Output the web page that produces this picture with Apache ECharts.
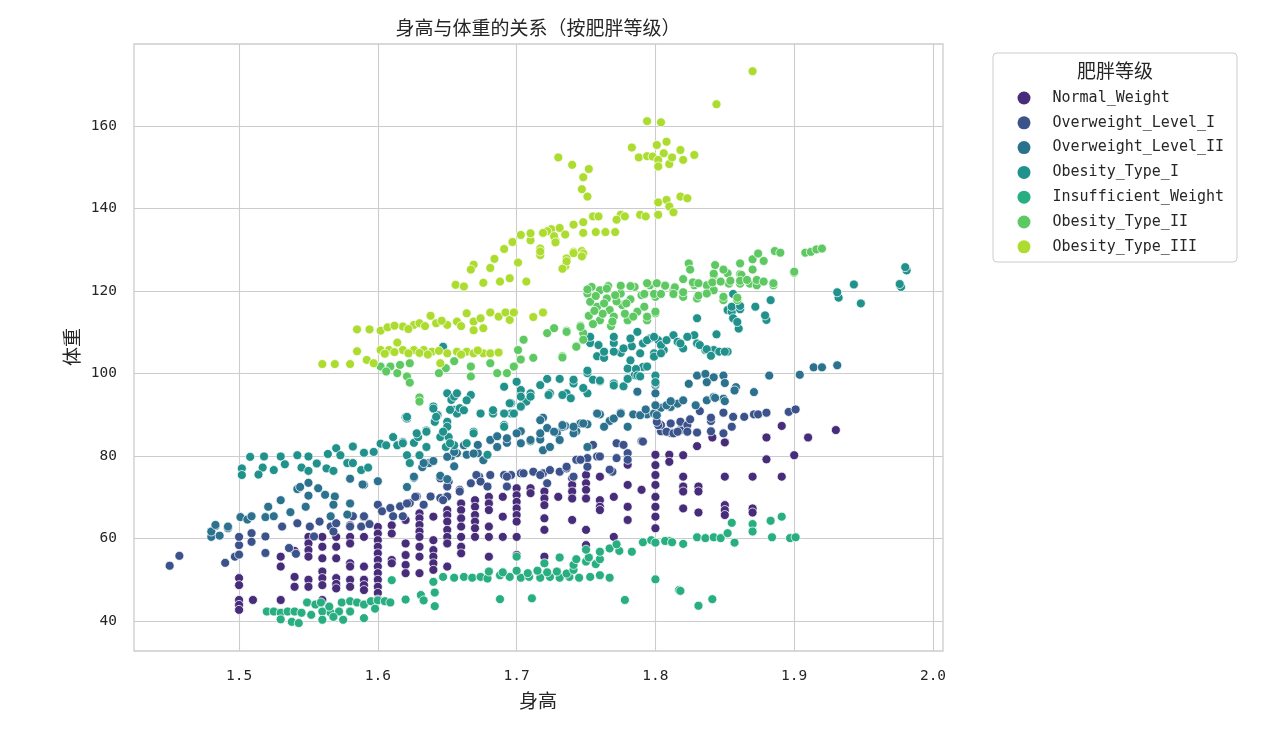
<!DOCTYPE html>
<html>
<head>
<meta charset="utf-8">
<title>身高与体重的关系</title>
<script src="https://cdn.jsdelivr.net/npm/echarts@6/dist/echarts.min.js"></script>
<style>
  html, body { margin: 0; padding: 0; background: #fff; }
  #main { width: 1273px; height: 730px; }
</style>
</head>
<body>
<div id="main"></div>
<script>
// 类别与颜色（seaborn viridis, 7 类）
var categories = ['Normal_Weight', 'Overweight_Level_I', 'Overweight_Level_II', 'Obesity_Type_I',
  'Insufficient_Weight', 'Obesity_Type_II', 'Obesity_Type_III'];
var colors = ['#472c7a', '#3b528b', '#2c728e', '#21918c', '#28ae80', '#5ec962', '#addc30'];

var xTicks = [1.5, 1.6, 1.7, 1.8, 1.9, 2.0];
var yTicks = [40, 60, 80, 100, 120, 140, 160];

// [身高, 体重]
var normalWeight = [
  [1.50,50.4],[1.50,48.7],[1.50,45.1],[1.50,43.9],[1.50,42.7],[1.51,45.1],
  [1.53,55.6],[1.53,53.2],[1.53,45.1],[1.54,57.0],[1.54,50.7],[1.54,48.3],
  [1.55,60.4],[1.55,58.8],[1.55,57.2],[1.55,55.6],[1.55,50.0],[1.55,48.3],
  [1.56,60.4],[1.56,58.0],[1.56,55.2],[1.56,52.0],[1.56,50.4],[1.56,48.7],[1.56,45.1],
  [1.57,60.4],[1.57,58.0],[1.57,55.2],[1.57,50.4],[1.57,49.0],[1.57,47.9],
  [1.58,63.2],[1.58,60.4],[1.58,58.8],[1.58,54.0],[1.58,53.2],[1.58,50.0],[1.58,48.3],
  [1.59,65.2],[1.59,60.4],[1.59,53.2],[1.59,50.0],[1.59,48.7],[1.59,47.5],
  [1.60,62.8],[1.60,61.2],[1.60,59.6],[1.60,58.0],[1.60,56.4],[1.60,54.8],[1.60,53.2],[1.60,51.6],[1.60,50.0],[1.60,48.3],[1.60,46.8],[1.60,45.2],
  [1.61,63.2],[1.61,61.2],[1.61,54.8],[1.61,54.0],
  [1.62,64.5],[1.62,58.8],[1.62,56.0],[1.62,53.6],[1.62,51.6],
  [1.63,66.1],[1.63,64.9],[1.63,63.3],[1.63,61.7],[1.63,60.4],[1.63,58.0],[1.63,55.6],[1.63,51.6],
  [1.64,65.3],[1.64,59.6],[1.64,57.2],[1.64,55.6],[1.64,54.0],[1.64,52.4],
  [1.65,66.9],[1.65,65.7],[1.65,64.1],[1.65,62.1],[1.65,60.4],[1.65,58.8],[1.65,53.2],
  [1.66,68.5],[1.66,66.9],[1.66,64.9],[1.66,62.9],[1.66,60.4],[1.66,58.0],[1.66,56.4],
  [1.67,69.3],[1.67,67.7],[1.67,65.7],[1.67,64.1],[1.67,62.5],[1.67,60.4],
  [1.68,70.1],[1.68,68.5],[1.68,66.9],[1.68,62.9],[1.68,60.4],[1.68,55.6],
  [1.69,70.1],[1.69,65.3],[1.69,60.4],
  [1.70,72.2],[1.70,70.5],[1.70,68.9],[1.70,67.3],[1.70,65.7],[1.70,64.1],[1.70,60.4],[1.70,56.0],
  [1.71,72.2],[1.71,71.0],
  [1.72,71.4],[1.72,69.7],[1.72,68.1],[1.72,64.9],[1.72,62.1],[1.72,55.6],
  [1.73,70.1],
  [1.74,74.6],[1.74,73.0],[1.74,71.4],[1.74,69.7],[1.74,64.5],
  [1.75,75.4],[1.75,73.4],[1.75,71.8],[1.75,69.7],[1.75,62.1],[1.75,58.4],
  [1.76,75.0],[1.76,69.3],[1.76,67.7],[1.76,66.9],
  [1.77,70.1],[1.77,60.4],
  [1.78,77.9],[1.78,73.0],[1.78,67.7],[1.78,64.5],
  [1.79,71.8],
  [1.80,80.3],[1.80,77.8],[1.80,75.4],[1.80,73.0],[1.80,70.1],[1.80,67.7],[1.80,65.3],[1.80,62.5],
  [1.81,80.3],[1.81,78.6],
  [1.82,80.2],[1.82,75.0],[1.82,72.6],[1.82,71.4],[1.82,67.3],
  [1.831,72.6],[1.831,71.4],[1.831,66.3],[1.830,82.4],
  [1.841,84.5],[1.85,83.3],[1.85,75.0],[1.85,68.1],[1.85,66.9],[1.85,65.7],
  [1.87,75.0],[1.87,67.3],[1.87,66.3],
  [1.88,84.5],[1.88,79.2],[1.891,87.3],[1.891,75.0],[1.90,80.2],[1.91,84.5],[1.93,86.3]
];

var overweightI = [
  [1.45,53.4],[1.457,55.8],[1.49,54.1],[1.497,55.6],[1.50,58.4],[1.50,60.4],[1.50,56.1],
  [1.509,61.3],[1.509,59.2],[1.519,60.5],[1.519,56.5],[1.536,57.7],[1.541,56.3],[1.531,62.9],
  [1.542,63.7],[1.551,62.9],[1.554,60.5],[1.558,64.1],[1.566,62.9],[1.568,61.7],[1.57,63.7],
  [1.58,62.9],[1.582,65.4],[1.59,65.4],[1.588,62.9],[1.594,63.5],[1.60,68.2],[1.603,66.6],
  [1.609,67.4],[1.611,65.4],[1.616,67.8],[1.618,65.4],[1.623,68.6],[1.628,70.2],[1.633,68.2],
  [1.638,70.2],[1.645,69.8],[1.65,70.2],
  [1.621,68.5],[1.627,70.1],[1.647,69.3],[1.645,74.6],[1.651,73.8],[1.659,71.8],[1.667,73.4],
  [1.673,75.0],[1.681,75.4],[1.691,75.4],[1.696,75.4],[1.703,75.8],[1.712,76.2],[1.719,75.8],
  [1.722,73.4],[1.731,76.2],[1.736,77.0],[1.743,79.1],[1.751,79.5],[1.758,79.9],[1.769,76.2],
  [1.772,79.5],[1.78,80.7],[1.79,83.6],[1.804,86.0],[1.811,85.6],
  [1.65,72.6],[1.659,71.4],[1.671,75.4],[1.674,73.8],[1.679,72.6],[1.693,75.0],[1.693,72.6],
  [1.705,75.8],[1.717,75.4],[1.724,76.6],[1.736,77.4],[1.741,75.0],[1.746,79.1],[1.751,77.4],
  [1.755,82.7],[1.76,79.9],[1.767,76.7],[1.772,83.1],[1.777,82.7],[1.78,79.1],[1.791,83.5],
  [1.804,87.5],[1.808,85.9],[1.813,85.5],[1.818,86.3],
  [1.802,87.5],[1.811,87.9],[1.818,88.3],[1.823,87.5],[1.816,85.9],[1.823,85.9],[1.83,85.7],
  [1.84,88.5],[1.84,86.0],[1.849,85.5],[1.856,89.5],[1.855,87.1],[1.864,89.5],[1.871,90.1],
  [1.874,90.1],[1.88,90.5],[1.896,90.7],[1.901,91.3],[1.832,90.9],[1.84,89.3],[1.849,90.5],
  [1.801,88.3],[1.825,88.9]
];

var overweightII = [
  [1.48,60.4],[1.483,63.0],[1.486,60.7],[1.492,62.5],[1.48,61.7],[1.483,63.3],[1.492,62.9],
  [1.501,65.2],[1.506,64.6],[1.509,65.4],[1.521,67.7],[1.519,65.2],[1.525,65.4],[1.53,69.3],
  [1.537,66.4],[1.542,72.0],[1.544,72.5],[1.55,73.5],[1.55,70.4],[1.557,72.2],[1.548,67.7],
  [1.562,70.6],[1.569,70.2],[1.568,68.2],[1.566,65.4],[1.58,74.5],[1.58,68.5],[1.578,65.8],
  [1.59,73.0],[1.60,73.9],[1.589,73.1],[1.621,72.5],[1.626,74.7],[1.632,77.3],[1.637,78.3],
  [1.64,78.8],[1.645,75.2],[1.65,74.4],[1.653,80.0],[1.655,77.5],
  [1.626,75.0],[1.633,78.3],[1.657,80.7],[1.664,80.3],[1.672,80.7],[1.681,83.9],[1.686,84.8],
  [1.693,83.2],[1.703,86.0],[1.71,83.6],[1.717,84.0],[1.722,86.8],[1.729,85.6],[1.735,87.3],
  [1.743,86.0],[1.751,87.7],[1.76,90.1],[1.767,88.5],[1.775,90.5],[1.784,90.1],[1.794,90.1],
  [1.804,91.7],[1.719,89.3],[1.672,82.7],
  [1.65,79.8],[1.655,81.0],[1.662,82.6],[1.669,80.6],[1.676,79.0],[1.686,82.2],[1.693,84.3],
  [1.70,85.5],[1.703,83.1],[1.71,83.9],[1.717,88.7],[1.717,85.5],[1.719,81.4],[1.724,82.2],
  [1.731,83.9],[1.733,87.1],[1.741,85.5],[1.746,87.9],[1.751,82.2],[1.758,90.3],[1.763,87.1],
  [1.77,89.1],[1.775,90.3],[1.78,87.1],[1.789,89.9],[1.799,90.3],[1.811,91.9],[1.816,92.7],
  [1.80,97.2],[1.80,95.2],[1.787,95.6],[1.78,98.8],
  [1.83,99.5],[1.836,99.9],[1.842,99.1],[1.849,99.5],[1.824,97.5],[1.837,97.9],[1.858,96.7],
  [1.871,95.5],[1.82,93.5],[1.829,92.3],[1.837,93.5],[1.842,94.3],[1.849,93.9],[1.80,92.3],
  [1.808,92.3],[1.801,89.9],[1.748,87.9],[1.741,87.1],[1.733,87.5],[1.727,85.9],[1.80,97.7],
  [1.85,97.7],[1.857,95.9],[1.882,99.5],[1.904,99.7],[1.914,101.5],[1.92,101.5],[1.931,102.0],
  [1.811,93.3],[1.843,94.1],[1.85,93.3],[1.793,91.3]
];

var obesityI = [
  [1.508,79.8],[1.502,77.0],[1.502,75.4],[1.518,79.9],[1.517,77.2],[1.514,75.5],[1.525,76.6],
  [1.53,79.9],[1.533,78.0],[1.542,80.2],[1.545,77.2],[1.55,79.9],[1.55,76.4],[1.556,78.2],
  [1.563,77.0],[1.564,80.5],[1.57,81.9],[1.568,76.4],[1.573,80.2],[1.578,78.3],[1.582,82.3],
  [1.582,78.3],[1.59,80.8],[1.588,76.6],[1.593,77.2],[1.597,81.0],[1.602,83.0],[1.606,82.6],
  [1.611,84.6],[1.614,82.6],[1.618,83.4],[1.621,80.2],[1.626,83.2],[1.629,84.6],[1.63,80.2],
  [1.635,82.2],[1.635,86.2],[1.62,89.4],[1.641,88.3],[1.643,90.0],[1.65,95.2],[1.653,93.6],
  [1.65,88.3],[1.645,84.6],[1.651,84.6],[1.649,82.2],[1.655,91.2],[1.655,82.6],
  [1.621,89.1],[1.628,85.5],[1.64,92.0],[1.635,85.9],[1.643,89.9],[1.65,87.1],[1.652,83.1],
  [1.657,90.3],[1.664,83.1],[1.669,85.9],[1.674,90.3],[1.679,80.3],[1.618,83.1],[1.623,78.3],
  [1.691,87.5],[1.696,90.3],[1.703,91.9],
  [1.655,94.4],[1.667,94.8],[1.659,91.6],[1.683,90.3],[1.691,96.8],[1.696,92.8],[1.703,96.0],
  [1.71,95.2],[1.717,97.2],[1.724,95.2],[1.736,95.2],[1.741,97.6],[1.751,100.4],[1.751,95.2],
  [1.77,97.6],[1.78,101.2],[1.785,99.6],[1.791,101.6],[1.691,87.1],[1.669,85.5],[1.647,85.9],
  [1.652,91.2],[1.70,98.0],[1.707,93.2],
  [1.647,106.5],[1.657,95.2],[1.664,93.5],[1.621,89.5],[1.64,91.5],[1.642,89.5],[1.662,91.1],
  [1.683,91.1],[1.691,90.3],[1.698,90.3],[1.695,92.8],[1.703,92.0],[1.703,94.4],[1.71,94.4],
  [1.723,94.8],[1.733,94.8],[1.739,94.0],[1.751,100.1],[1.741,98.5],[1.755,98.5],[1.76,98.1],
  [1.777,96.9],[1.753,107.4],[1.758,104.2],[1.763,103.8],[1.77,107.4],[1.775,105.0],[1.783,106.6],
  [1.748,96.5],
  [1.852,115.4],[1.855,115.0],[1.861,115.6],[1.856,113.4],[1.86,110.9],[1.83,113.4],[1.844,109.5],
  [1.872,116.2],[1.88,113.0],[1.883,117.8],[1.932,118.4],[1.943,121.6],[1.948,117.0],[1.977,121.0],
  [1.981,125.0],
  [1.753,108.9],[1.759,106.9],[1.763,105.3],[1.77,108.9],[1.77,105.3],[1.777,106.1],[1.782,108.5],
  [1.782,103.2],[1.787,110.1],[1.789,104.9],[1.791,107.3],[1.796,108.5],[1.799,104.9],[1.802,108.1],
  [1.806,105.7],[1.813,109.3],[1.816,107.7],[1.82,106.1],[1.828,109.3],[1.83,107.3],[1.836,105.7],
  [1.842,105.7],[1.852,105.3],[1.786,101.1],[1.787,99.5],[1.78,98.7],[1.80,99.5],[1.80,97.9],
  [1.751,100.7],[1.76,98.3],[1.77,97.1],[1.731,98.7],[1.722,98.7],
  [1.856,119.3],[1.855,116.2],[1.861,116.4],[1.879,114.1],[1.859,112.5],[1.931,119.7],[1.98,125.8],
  [1.976,121.7],[1.794,108.1],[1.799,108.9],[1.804,106.9],[1.808,108.1],[1.818,107.3],[1.823,108.9],
  [1.832,106.9],[1.837,105.9],[1.84,104.3],[1.846,105.3],[1.85,105.3],[1.799,104.1],[1.804,104.9],
  [1.794,101.7],[1.789,99.3]
];

var insufficient = [
  [1.52,42.3],[1.525,42.3],[1.53,42.0],[1.535,42.3],[1.54,42.3],[1.545,42.0],[1.552,41.5],
  [1.56,42.3],[1.566,42.0],[1.572,42.3],[1.58,42.3],
  [1.53,40.4],[1.538,39.8],[1.543,39.5],[1.56,40.3],[1.575,40.3],[1.59,40.7],[1.568,41.0],
  [1.549,44.5],[1.555,44.0],[1.559,44.5],[1.574,44.5],[1.58,44.8],[1.585,44.5],[1.59,44.0],
  [1.595,44.8],[1.60,45.0],[1.605,44.8],[1.609,44.5],
  [1.61,49.9],[1.62,45.2],[1.598,43.0],[1.565,43.5],
  [1.631,46.3],[1.633,45.0],[1.641,46.9],[1.641,43.6],[1.688,45.3],[1.711,45.5],[1.70,55.6],
  [1.778,45.1],[1.80,50.1],[1.817,47.5],
  [1.64,49.5],[1.647,50.7],[1.655,50.5],[1.662,50.7],[1.668,50.5],[1.674,50.7],[1.679,50.3],
  [1.688,51.1],[1.695,50.7],[1.703,50.5],[1.709,50.7],[1.717,50.5],[1.724,50.7],[1.731,50.5],
  [1.738,50.7],[1.745,50.5],[1.753,50.7],[1.76,51.1],[1.767,50.5],
  [1.68,52.0],[1.69,51.8],[1.70,52.2],[1.708,51.6],[1.715,52.2],[1.722,51.8],[1.729,52.0],
  [1.736,51.5],[1.741,52.4],
  [1.72,54.0],[1.741,53.6],[1.75,54.4],[1.757,53.8],
  [1.731,55.4],[1.743,55.0],[1.752,55.4],[1.76,55.0],
  [1.75,57.3],[1.76,56.8],[1.767,57.6],[1.774,57.0],[1.783,56.8],
  [1.772,58.6],[1.791,59.1],[1.797,59.6],[1.80,59.0],[1.81,59.4],
  [1.807,59.4],[1.812,59.1],[1.82,58.7],[1.83,60.3],[1.836,60.1],[1.842,60.3],[1.847,60.1],
  [1.852,61.3],[1.857,59.0],[1.855,63.8],[1.87,63.5],[1.87,61.7],[1.883,64.3],[1.891,65.3],
  [1.884,60.3],[1.897,60.1],[1.901,60.3],[1.818,47.3],[1.831,43.7],[1.841,45.3]
];

var obesityII = [
  [1.602,101.7],[1.609,101.7],[1.614,100.1],[1.621,99.3],[1.606,100.5],[1.616,102.1],[1.623,102.5],
  [1.649,101.3],[1.644,100.1],[1.655,103.0],[1.667,101.7],[1.667,99.3],[1.681,102.5],[1.686,100.1],
  [1.693,100.1],[1.698,101.7],[1.703,103.4],[1.705,108.2],[1.701,105.7],[1.712,103.8],[1.63,94.2],
  [1.623,97.8],[1.63,93.2],[1.722,109.8],[1.727,111.0],[1.733,104.2],[1.736,110.4],[1.743,106.7],
  [1.746,111.6],[1.748,109.8],[1.748,108.2],[1.736,110.1],[1.746,111.3],[1.743,106.5],[1.733,103.9],
  [1.751,119.4],[1.753,117.4],[1.76,120.2],[1.765,118.2],[1.767,115.4],[1.775,119.4],[1.776,116.6],
  [1.77,113.8],[1.76,112.9],[1.758,116.2],[1.78,112.9],[1.785,121.0],[1.787,115.0],[1.794,112.9],
  [1.796,121.4],[1.80,114.6],[1.80,118.6],[1.807,121.4],[1.813,120.2],[1.82,118.6],[1.828,121.4],
  [1.83,118.2],[1.837,121.4],[1.842,120.2],[1.849,117.8],[1.853,121.8],[1.859,117.8],[1.861,121.8],
  [1.868,121.8],[1.873,121.4],[1.885,121.4],[1.842,123.8],[1.852,124.3],[1.861,124.1],[1.90,124.4],
  [1.752,114.0],[1.755,112.0],[1.762,114.5],[1.768,111.5],[1.772,117.5],[1.778,114.5],[1.782,118.0],
  [1.79,119.0],[1.754,121.0],[1.766,121.2],[1.775,121.3],
  [1.756,115.2],[1.763,117.0],[1.771,119.0],[1.779,117.0],[1.757,118.8],[1.769,112.6],[1.784,113.8],
  [1.824,126.7],[1.825,125.2],[1.843,126.3],[1.849,125.2],[1.842,124.2],[1.861,126.7],[1.862,123.9],
  [1.87,127.7],[1.874,129.1],[1.878,127.3],[1.87,125.2],[1.886,129.7],[1.89,129.3],[1.90,124.7],
  [1.908,129.3],[1.912,129.5],[1.916,130.1],[1.92,130.3],[1.794,121.9],[1.801,121.9],[1.807,121.3],
  [1.814,120.9],[1.82,122.9],[1.827,122.1],[1.831,121.9],[1.841,122.1],[1.847,122.3],[1.854,122.5],
  [1.861,122.5],[1.866,122.7],[1.873,122.7],[1.878,122.3],[1.885,121.9],[1.792,119.3],[1.799,119.3],
  [1.804,119.3],[1.813,119.3],[1.82,119.7],[1.831,118.9],[1.837,119.4],[1.849,118.6],[1.859,118.4],
  [1.792,116.2],[1.80,115.0],[1.794,113.8],[1.751,120.4],[1.765,120.6],[1.782,121.2]
];

var obesityIII = [
  [1.56,102.3],[1.569,102.3],[1.58,102.3],[1.585,110.7],[1.594,110.7],[1.602,110.4],[1.585,105.4],
  [1.592,103.3],[1.597,102.5],[1.602,105.7],[1.608,105.7],[1.614,107.5],[1.618,105.7],[1.626,105.7],
  [1.633,105.7],[1.639,105.3],[1.645,102.5],[1.65,104.9],[1.657,105.3],[1.664,105.3],[1.669,104.9],
  [1.676,104.9],[1.681,104.9],[1.687,105.1],[1.618,111.4],[1.626,111.8],[1.63,112.2],[1.638,114.0],
  [1.642,112.2],[1.65,111.8],[1.657,112.6],[1.664,114.6],[1.669,112.6],[1.674,113.4],[1.676,111.0],
  [1.681,114.8],[1.687,113.8],[1.692,114.8],[1.695,113.0],[1.698,114.8],[1.712,113.7],[1.719,114.8],
  [1.605,104.8],[1.612,105.2],[1.622,104.9],[1.63,105.0],[1.636,104.6],[1.644,105.5],[1.66,104.6],
  [1.672,105.6],[1.607,111.2],[1.612,111.6],[1.622,110.8],[1.634,111.5],[1.646,112.8],[1.66,111.5],
  [1.669,110.5],
  [1.656,121.5],[1.662,121.1],[1.669,126.4],[1.667,125.2],[1.676,122.0],[1.681,125.6],[1.684,127.8],
  [1.691,130.2],[1.688,122.3],[1.695,123.1],[1.701,126.9],[1.707,122.3],[1.71,132.3],[1.717,130.3],
  [1.717,128.7],[1.736,127.9],[1.735,126.0],[1.741,129.5],[1.747,129.7],[1.748,129.1],[1.728,132.3],
  [1.697,131.9],[1.703,133.6],[1.71,134.0],[1.725,135.0],
  [1.87,173.3],[1.844,165.3],[1.794,161.2],[1.804,160.9],[1.801,155.4],[1.808,156.2],[1.783,154.8],
  [1.788,152.4],[1.794,152.7],[1.798,152.6],[1.802,151.8],[1.802,150.2],[1.806,153.4],[1.81,150.8],
  [1.812,152.4],[1.818,154.2],[1.82,151.8],[1.828,153.0],[1.73,152.4],[1.74,150.6],[1.752,149.6],
  [1.748,147.6],[1.747,144.7],[1.751,142.9],[1.802,141.5],[1.808,142.1],[1.81,140.5],[1.818,142.9],
  [1.823,142.5],[1.802,138.5],[1.813,139.1],[1.755,138.1],[1.759,138.1],[1.775,138.5],[1.772,137.3],
  [1.778,138.1],[1.789,138.5],[1.793,138.1],[1.748,136.7],[1.741,136.1],[1.731,135.3],[1.722,134.5],
  [1.735,133.7],[1.748,134.1],[1.757,134.3],[1.764,134.3],[1.771,134.3],[1.727,133.3],[1.719,134.1],
  [1.728,131.8],[1.717,129.6],[1.741,129.2],[1.747,128.4],[1.736,127.2],[1.733,125.4]
];

var seriesData = [normalWeight, overweightI, overweightII, obesityI, insufficient, obesityII, obesityIII];

var chart = echarts.init(document.getElementById('main'), null, { renderer: 'canvas' });

var cjk = '"Noto Sans CJK SC", "Noto Sans", sans-serif';
var mono = '"DejaVu Sans Mono", "Liberation Mono", monospace';

var series = [];
for (var i = 0; i < categories.length; i++) {
  series.push({
    name: categories[i],
    type: 'scatter',
    data: seriesData[i],
    symbol: 'circle',
    symbolSize: 9,
    itemStyle: { color: colors[i], borderColor: '#ffffff', borderWidth: 0.75, opacity: 1 }
  });
}

chart.setOption({
  backgroundColor: '#ffffff',
  animation: false,
  grid: {
    left: 134, top: 44, width: 809, height: 607,
    show: true, borderColor: '#cccccc', borderWidth: 1.3, backgroundColor: '#ffffff'
  },
  xAxis: {
    type: 'value',
    min: 1.4243, max: 2.0072,
    axisLine: { show: false },
    axisTick: { show: false, customValues: xTicks },
    splitLine: { show: true, lineStyle: { color: '#cccccc', width: 1.1 } },
    axisLabel: {
      customValues: xTicks,
      margin: 18,
      color: '#262626',
      fontFamily: mono,
      fontSize: 14.5,
      formatter: function (v) { return v.toFixed(1); }
    }
  },
  yAxis: {
    type: 'value',
    min: 32.73, max: 179.9,
    axisLine: { show: false },
    axisTick: { show: false, customValues: yTicks },
    splitLine: { show: true, lineStyle: { color: '#cccccc', width: 1.1 } },
    axisLabel: {
      customValues: yTicks,
      margin: 17,
      color: '#262626',
      fontFamily: mono,
      fontSize: 14.5
    }
  },
  legend: {
    data: categories,
    orient: 'vertical',
    left: 1012.5,
    top: 85,
    z: 10,
    icon: 'circle',
    itemWidth: 13,
    itemHeight: 13,
    itemGap: 8.8,
    itemStyle: { borderWidth: 0 },
    textStyle: {
      fontFamily: mono, fontSize: 15, color: '#262626',
      lineHeight: 16, padding: [0, 0, 0, 17]
    }
  },
  graphic: [
    {
      type: 'rect', z: 1,
      shape: { x: 993, y: 53, width: 244, height: 209, r: 4 },
      style: { fill: '#ffffff', stroke: '#cccccc', lineWidth: 1 }
    },
    {
      type: 'text', z: 2, x: 1115, y: 71,
      style: { text: '肥胖等级', fontFamily: cjk, fontSize: 19, fill: '#262626', textAlign: 'center', textVerticalAlign: 'middle' }
    },
    {
      type: 'text', z: 2, x: 538, y: 28,
      style: { text: '身高与体重的关系（按肥胖等级）', fontFamily: cjk, fontSize: 19, fill: '#262626', textAlign: 'center', textVerticalAlign: 'middle' }
    },
    {
      type: 'text', z: 2, x: 538, y: 701,
      style: { text: '身高', fontFamily: cjk, fontSize: 19, fill: '#262626', textAlign: 'center', textVerticalAlign: 'middle' }
    },
    {
      type: 'text', z: 2, x: 72, y: 347, rotation: Math.PI / 2,
      style: { text: '体重', fontFamily: cjk, fontSize: 19, fill: '#262626', textAlign: 'center', textVerticalAlign: 'middle' }
    }
  ],
  series: series
});

window.onresize = function () { chart.resize(); };
</script>
</body>
</html>
